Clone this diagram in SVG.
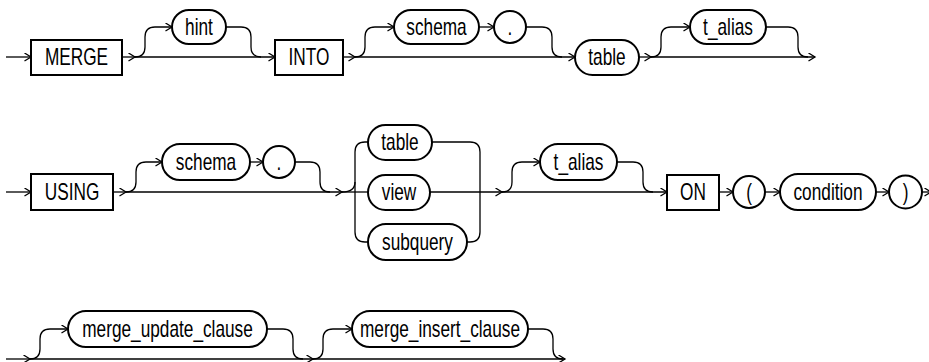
<svg xmlns="http://www.w3.org/2000/svg" width="929" height="362" viewBox="0 0 929 362">
<style>
.n{fill:#fff;stroke:#000;stroke-width:2}
.t{font-family:"Liberation Sans Narrow","Arial Narrow","Liberation Sans",sans-serif;font-size:23px;fill:#000;text-anchor:middle;dominant-baseline:central}
.c path{fill:none;stroke:#000;stroke-width:1.3}
.a{marker-end:url(#ar)}
</style>
<defs>
<marker id="ar" markerUnits="userSpaceOnUse" markerWidth="10" markerHeight="10" refX="7" refY="4.5" orient="auto" viewBox="0 0 10 10">
<path d="M0.5,0.5 L7,4.5 L0.5,8.5" fill="none" stroke="#000" stroke-width="1.3"/>
</marker>
</defs>
<g id="connectors" class="c">
<path class="a" d="M6,57 L31,57"/>
<path class="a" d="M122,57 L135,57"/>
<path class="a" d="M135,57 L275,57"/>
<path class="a" d="M135,57 Q145,57 145,47 L145,37 Q145,27 155,27 L172,27"/>
<path d="M226,27 L241,27 Q251,27 251,37 L251,47 Q251,57 261,57"/>
<path class="a" d="M343,57 L355,57"/>
<path class="a" d="M355,57 L575,57"/>
<path class="a" d="M355,57 Q365,57 365,47 L365,37 Q365,27 375,27 L394,27"/>
<path class="a" d="M479,27 L494,27"/>
<path d="M526,27 L542,27 Q552,27 552,37 L552,47 Q552,57 562,57"/>
<path class="a" d="M639,57 L651,57"/>
<path class="a" d="M651,57 L815,57"/>
<path class="a" d="M651,57 Q661,57 661,47 L661,37 Q661,27 671,27 L690,27"/>
<path d="M766,27 L788,27 Q798,27 798,37 L798,47 Q798,57 808,57"/>
<path class="a" d="M6,192 L31,192"/>
<path class="a" d="M113,192 L126,192"/>
<path class="a" d="M126,192 L342,192"/>
<path class="a" d="M126,192 Q136,192 136,182 L136,172 Q136,162 146,162 L162,162"/>
<path class="a" d="M250,162 L263,162"/>
<path d="M295,162 L310,162 Q320,162 320,172 L320,182 Q320,192 330,192"/>
<path d="M342,192 L368,192"/>
<path d="M342,192 Q355,192 355,182 L355,152 Q355,142 365,142 L368,142"/>
<path d="M355,182 L355,232 Q355,242 365,242 L368,242"/>
<path d="M432,142 L470,142 Q480,142 480,152 L480,232 Q480,242 470,242 L467,242"/>
<path class="a" d="M430,192 L502,192"/>
<path class="a" d="M502,192 L667,192"/>
<path class="a" d="M502,192 Q512,192 512,182 L512,172 Q512,162 522,162 L540,162"/>
<path d="M617,162 L633,162 Q643,162 643,172 L643,182 Q643,192 653,192"/>
<path class="a" d="M719,192 L733,192"/>
<path class="a" d="M765,192 L780,192"/>
<path class="a" d="M876,192 L889,192"/>
<path class="a" d="M922,192 L931,192"/>
<path class="a" d="M6,359 L30,359"/>
<path class="a" d="M30,359 L313,359"/>
<path class="a" d="M30,359 Q40,359 40,349 L40,339 Q40,329 50,329 L68,329"/>
<path d="M267,329 L283,329 Q293,329 293,339 L293,349 Q293,359 303,359"/>
<path class="a" d="M313,359 L565,359"/>
<path class="a" d="M313,359 Q323,359 323,349 L323,339 Q323,329 333,329 L352,329"/>
<path d="M528,329 L543,329 Q553,329 553,339 L553,349 Q553,359 563,359"/>
</g>
<g id="merge"><rect class="n" x="31" y="40" width="91" height="35"/><text class="t" transform="translate(76.5,57.5) scale(0.75,1)">MERGE</text></g>
<g id="hint"><rect class="n" x="172" y="10" width="54" height="34" rx="17"/><text class="t" transform="translate(199,27) scale(0.75,1)">hint</text></g>
<g id="into"><rect class="n" x="275" y="40" width="68" height="35"/><text class="t" transform="translate(309,57.5) scale(0.75,1)">INTO</text></g>
<g id="schema1"><rect class="n" x="394" y="10" width="85" height="34" rx="17"/><text class="t" transform="translate(436.5,27) scale(0.75,1)">schema</text></g>
<g id="dot1"><circle class="n" cx="510" cy="27" r="16"/><text class="t" transform="translate(510,27) scale(0.75,1)">.</text></g>
<g id="table1"><rect class="n" x="575" y="40" width="64" height="35" rx="17.5"/><text class="t" transform="translate(607,57.5) scale(0.75,1)">table</text></g>
<g id="talias1"><rect class="n" x="690" y="10" width="76" height="34" rx="17"/><text class="t" transform="translate(728,27) scale(0.75,1)">t_alias</text></g>
<g id="using"><rect class="n" x="31" y="174" width="82" height="36"/><text class="t" transform="translate(72,192) scale(0.75,1)">USING</text></g>
<g id="schema2"><rect class="n" x="162" y="144" width="88" height="36" rx="18"/><text class="t" transform="translate(206,162) scale(0.75,1)">schema</text></g>
<g id="dot2"><circle class="n" cx="279" cy="162" r="16"/><text class="t" transform="translate(279,162) scale(0.75,1)">.</text></g>
<g id="table2"><rect class="n" x="368" y="125" width="64" height="35" rx="17.5"/><text class="t" transform="translate(400,142.5) scale(0.75,1)">table</text></g>
<g id="view"><rect class="n" x="368" y="175" width="62" height="35" rx="17.5"/><text class="t" transform="translate(399,192.5) scale(0.75,1)">view</text></g>
<g id="subquery"><rect class="n" x="368" y="224" width="99" height="36" rx="18"/><text class="t" transform="translate(417.5,242) scale(0.75,1)">subquery</text></g>
<g id="talias2"><rect class="n" x="540" y="144" width="77" height="36" rx="18"/><text class="t" transform="translate(578.5,162) scale(0.75,1)">t_alias</text></g>
<g id="on"><rect class="n" x="667" y="175" width="52" height="35"/><text class="t" transform="translate(693,192.5) scale(0.75,1)">ON</text></g>
<g id="lparen"><circle class="n" cx="749" cy="192" r="16"/><text class="t" transform="translate(749,192) scale(0.75,1)">(</text></g>
<g id="condition"><rect class="n" x="780" y="174" width="96" height="36" rx="18"/><text class="t" transform="translate(828,192) scale(0.75,1)">condition</text></g>
<g id="rparen"><circle class="n" cx="905.5" cy="192" r="16.5"/><text class="t" transform="translate(905.5,192) scale(0.75,1)">)</text></g>
<g id="mergeupdate"><rect class="n" x="68" y="311" width="199" height="36" rx="18"/><text class="t" transform="translate(167.5,329) scale(0.75,1)">merge_update_clause</text></g>
<g id="mergeinsert"><rect class="n" x="352" y="311" width="176" height="36" rx="18"/><text class="t" transform="translate(440,329) scale(0.75,1)">merge_insert_clause</text></g>
</svg>
